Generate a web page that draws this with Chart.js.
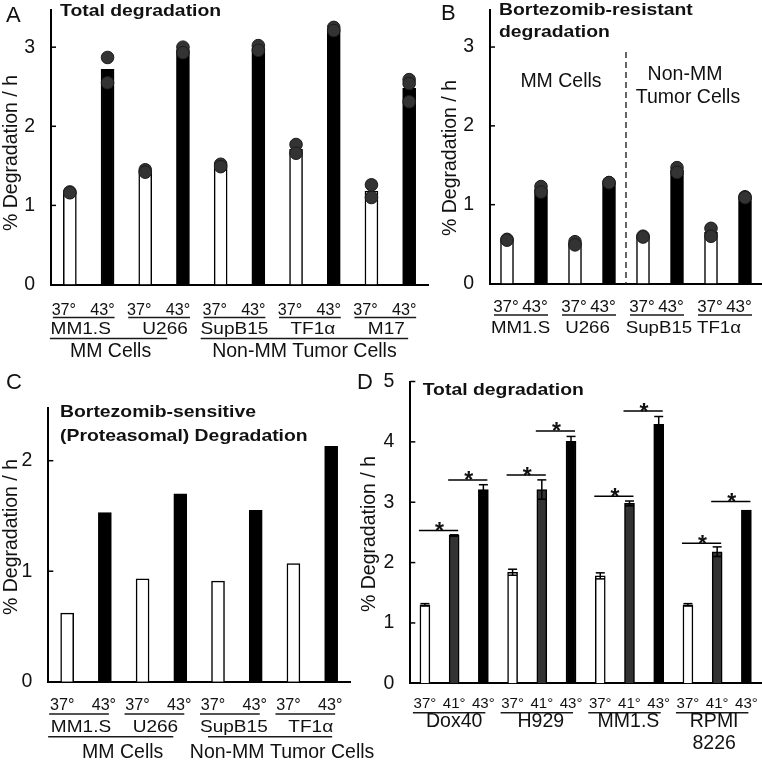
<!DOCTYPE html>
<html>
<head>
<meta charset="utf-8">
<script src="https://cdn.jsdelivr.net/npm/chart.js@4/dist/chart.umd.min.js"></script>
<style>
  html, body { margin: 0; padding: 0; background: #fff; }
  #wrap { position: relative; width: 762px; height: 760px; }
  #wrap canvas { position: absolute; left: 0; top: 0; }
</style>
</head>
<body>
<div id="wrap">
  <canvas id="chartA" width="762" height="760"></canvas>
  <canvas id="chartB" width="762" height="760"></canvas>
  <canvas id="chartC" width="762" height="760"></canvas>
  <canvas id="chartD" width="762" height="760"></canvas>
</div>
<script>
// ---- data ----
const tempsAB = ['37°', '43°'];

const cellsA = ['MM1.S', 'U266', 'SupB15', 'TF1α', 'M17'];
const groupsA = ['MM Cells', 'Non-MM Tumor Cells'];
const meanA = [1.17, 2.72, 1.44, 2.97, 1.51, 2.99, 1.71, 3.23, 1.18, 2.48];
const repsA = [[1.17, 1.16], [2.87, 2.55], [1.45, 1.42], [3.00, 2.93], [1.52, 1.49],
               [3.02, 2.96], [1.77, 1.66], [3.25, 3.21], [1.26, 1.10], [2.59, 2.54, 2.31]];

const cellsB = ['MM1.S', 'U266', 'SupB15', 'TF1α'];
const meanB = [0.55, 1.20, 0.51, 1.28, 0.60, 1.44, 0.65, 1.10];
const repsB = [[0.56, 0.55], [1.23, 1.16], [0.53, 0.49], [1.28, 1.28],
               [0.60, 0.59], [1.47, 1.41], [0.70, 0.60], [1.10, 1.09]];

const cellsC = ['MM1.S', 'U266', 'SupB15', 'TF1α'];
const groupsC = ['MM Cells', 'Non-MM Tumor Cells'];
const meanC = [0.62, 1.53, 0.93, 1.70, 0.91, 1.55, 1.07, 2.13];

const cellsD = ['Dox40', 'H929', 'MM1.S', 'RPMI\n8226'];
const tempsD = ['37°', '41°', '43°'];
const meanD = [1.30, 2.45, 3.21, 1.84, 3.21, 4.01, 1.78, 2.98, 4.29, 1.30, 2.18, 2.87];
const sdD = [0.02, 0.01, 0.08, 0.05, 0.16, 0.08, 0.05, 0.04, 0.13, 0.02, 0.08, 0];
// significance brackets: bar index from / to, height
const sigFromD = [0, 1, 3, 4, 6, 7, 9, 10];
const sigToD = [1, 2, 4, 5, 7, 8, 10, 11];
const sigYD = [2.53, 3.37, 3.45, 4.18, 3.10, 4.51, 2.32, 3.01];

// ---- helpers ----
const FONT = '"Liberation Sans", Arial, Helvetica, sans-serif';

function txt(ctx, s, x, y, size, o = {}) {
  ctx.save();
  ctx.font = (o.bold ? 'bold ' : '') + size + 'px ' + FONT;
  ctx.fillStyle = '#111';
  ctx.textAlign = o.align || 'center';
  ctx.textBaseline = o.base || 'alphabetic';
  ctx.translate(x, y);
  if (o.rot) ctx.rotate(o.rot);
  ctx.scale(o.sx || 1, 1);
  ctx.fillText(s, 0, 0);
  ctx.restore();
}

function line(ctx, x1, y1, x2, y2, w = 1.5, color = '#1a1a1a', dash) {
  ctx.save();
  ctx.strokeStyle = color;
  ctx.lineWidth = w;
  if (dash) ctx.setLineDash(dash);
  ctx.beginPath();
  ctx.moveTo(x1, y1);
  ctx.lineTo(x2, y2);
  ctx.stroke();
  ctx.restore();
}

const keysOf = (cells, temps) => cells.flatMap(c => temps.map(t => c + ' ' + t));

function deco(ch, p) {
  const ctx = ch.ctx, x = ch.scales.x, y = ch.scales.y, a = ch.chartArea;
  // small inward tick marks on the y axis
  y.ticks.forEach(t => {
    if (t.value > 0) {
      const py = y.getPixelForValue(t.value);
      line(ctx, a.left, py, a.left + 5, py, 1.5, '#000');
    }
  });
  txt(ctx, p.letter[0], p.letter[1], p.letter[2], 22, { align: 'left' });
  p.titles.forEach(t => txt(ctx, t[0], t[1], t[2], 17, { bold: true, align: 'left', sx: 1.14 }));
  txt(ctx, '% Degradation / h', p.yTitle[0], p.yTitle[1], 19.5, { rot: -Math.PI / 2, base: 'middle' });

  const nT = p.temps.length;
  p.cells.forEach((c, ci) => {
    const first = x.getPixelForValue(ci * nT);
    const last = x.getPixelForValue(ci * nT + nT - 1);
    p.temps.forEach((t, ti) => {
      txt(ctx, t, x.getPixelForValue(ci * nT + ti) + p.r1.offs[ti], p.r1.y, p.r1.size, { sx: p.r1.sx });
    });
    line(ctx, first + p.r1.ext[0], p.r1.ul, last + p.r1.ext[1], p.r1.ul);
    const mid = (first + last) / 2 + p.r2.offs[ci];
    c.split('\n').forEach((s, li) => {
      txt(ctx, s, mid, p.r2.y + li * 22.3, p.r2.size, { sx: p.r2.sx });
    });
  });

  if (p.groups) {
    p.groups.forEach((g, gi) => {
      const sp = p.gLines[gi];
      const x1 = x.getPixelForValue(sp[0]) + sp[1];
      const x2 = x.getPixelForValue(sp[2]) + sp[3];
      line(ctx, x1, p.gy, x2, p.gy);
      txt(ctx, g, (x1 + x2) / 2 + p.gOffs[gi], p.gLabelY, 19.5);
    });
  }
  if (p.extra) p.extra(ch);
}

function makeChart(id, o) {
  const datasets = [{
    type: 'bar',
    data: o.means,
    order: 1,
    backgroundColor: o.colors,
    borderColor: '#000',
    borderWidth: 1.5,
    barThickness: o.barW
  }];
  if (o.dots) {
    datasets.push({
      type: 'scatter',
      data: o.dots,
      order: 0,
      pointRadius: 6.3,
      backgroundColor: '#333',
      borderColor: '#1c1c1c',
      borderWidth: 1
    });
  }
  return new Chart(document.getElementById(id), {
    type: 'bar',
    data: { labels: o.keys, datasets },
    options: {
      responsive: false,
      animation: false,
      devicePixelRatio: 1,
      layout: {
        autoPadding: false,
        padding: { left: 0, top: o.area.top, right: 762 - o.area.right, bottom: 760 - o.area.bottom }
      },
      plugins: { legend: { display: false }, tooltip: { enabled: false } },
      scales: {
        x: {
          type: 'category',
          offset: true,
          grid: { display: false, drawTicks: false },
          border: { display: true, color: '#000', width: 2 },
          ticks: { display: false },
          afterFit: s => { s.height = 0; s.paddingLeft = 0; s.paddingRight = 0; }
        },
        y: {
          min: 0,
          max: o.yMax,
          grid: { display: false, drawTicks: false },
          border: { display: true, color: '#000', width: 2 },
          ticks: { stepSize: 1, includeBounds: false, padding: 16, color: '#111', font: { family: FONT, size: 19.5 } },
          afterFit: s => { s.width = o.area.left; s.paddingTop = 0; s.paddingBottom = 0; }
        }
      }
    },
    plugins: [{ id: 'deco' + id, afterDraw: ch => deco(ch, o.deco) }]
  });
}

const twoColors = n => Array.from({ length: n }, (_, i) => (i % 2 ? '#000' : '#fff'));

// ---- panel A ----
const keysA = keysOf(cellsA, tempsAB);
makeChart('chartA', {
  keys: keysA,
  means: meanA,
  colors: twoColors(meanA.length),
  dots: repsA.flatMap((r, i) => r.map(v => ({ x: keysA[i], y: v }))),
  yMax: 3.47,
  barW: 13,
  area: { left: 51, top: 10, right: 428, bottom: 284.5 },
  deco: {
    letter: ['A', 6, 21.7],
    titles: [['Total degradation', 60, 16]],
    yTitle: [12, 153],
    cells: cellsA, temps: tempsAB,
    r1: { y: 315, size: 17, sx: 0.95, offs: [-6, -5], ul: 317.5, ext: [-17, 7] },
    r2: { y: 333.5, size: 17, sx: 1.12, offs: [-8, 1, -5, -2, -4] },
    groups: groupsA,
    gLines: [[0, -20, 2, 22], [4, -20, 9, -1]],
    gy: 338.5, gLabelY: 356.5, gOffs: [2, 0]
  }
});

// ---- panel B ----
const keysB = keysOf(cellsB, tempsAB);
makeChart('chartB', {
  keys: keysB,
  means: meanB,
  colors: twoColors(meanB.length),
  dots: repsB.flatMap((r, i) => r.map(v => ({ x: keysB[i], y: v }))),
  yMax: 3.47,
  barW: 13,
  area: { left: 490, top: 10, right: 762, bottom: 283.5 },
  deco: {
    letter: ['B', 441, 19.5],
    titles: [['Bortezomib-resistant', 499, 15], ['degradation', 499, 37]],
    yTitle: [451, 158],
    cells: cellsB, temps: tempsAB,
    r1: { y: 311.7, size: 17, sx: 1, offs: [-1, -6], ul: 315, ext: [-13, 7] },
    r2: { y: 333.3, size: 17, sx: 1.1, offs: [-3.5, -4.5, -1, -9] },
    extra: ch => {
      const ctx = ch.ctx, x = ch.scales.x, a = ch.chartArea;
      const xd = (x.getPixelForValue(3) + x.getPixelForValue(4)) / 2;
      line(ctx, xd, 52, xd, a.bottom, 1.5, '#333', [6, 4]);
      txt(ctx, 'MM Cells', 561, 87.3, 19.5);
      txt(ctx, 'Non-MM', 685, 80, 19.5);
      txt(ctx, 'Tumor Cells', 688, 103.3, 19.5);
    }
  }
});

// ---- panel C ----
const keysC = keysOf(cellsC, tempsAB);
makeChart('chartC', {
  keys: keysC,
  means: meanC,
  colors: twoColors(meanC.length),
  yMax: 2.477,
  barW: 13,
  area: { left: 48.3, top: 408, right: 350, bottom: 681.7 },
  deco: {
    letter: ['C', 6, 389],
    titles: [['Bortezomib-sensitive', 60, 417], ['(Proteasomal) Degradation', 60, 441]],
    yTitle: [12, 537],
    cells: cellsC, temps: tempsAB,
    r1: { y: 710, size: 17, sx: 0.95, offs: [-5, -1], ul: 714, ext: [-18, 4] },
    r2: { y: 731.7, size: 17, sx: 1.12, offs: [-5, -6, -3, -1.5] },
    groups: groupsC,
    gLines: [[0, -19, 3, -7], [4, -10, 7, 1]],
    gy: 736.7, gLabelY: 758, gOffs: [12, 12]
  }
});

// ---- panel D ----
const keysD = keysOf(cellsD, tempsD);
makeChart('chartD', {
  keys: keysD,
  means: meanD,
  colors: meanD.map((_, i) => ['#fff', '#333', '#000'][i % 3]),
  yMax: 5,
  barW: 10,
  area: { left: 410.3, top: 381.5, right: 761, bottom: 683.3 },
  deco: {
    letter: ['D', 357, 389],
    titles: [['Total degradation', 422.7, 395]],
    yTitle: [370, 534],
    cells: cellsD, temps: tempsD,
    r1: { y: 708, size: 15.5, sx: 0.97, offs: [0, 0, 0], ul: 712.7, ext: [-12, 2] },
    r2: { y: 726.7, size: 19.5, sx: 1, offs: [0, -1, -1, -3] },
    extra: ch => {
      const ctx = ch.ctx, x = ch.scales.x, y = ch.scales.y;
      meanD.forEach((m, i) => {
        const sd = sdD[i];
        if (!sd) return;
        const px = x.getPixelForValue(i);
        const t = y.getPixelForValue(m + sd), b = y.getPixelForValue(m - sd);
        line(ctx, px, t, px, b, 1.5, '#000');
        line(ctx, px - 4.5, t, px + 4.5, t, 1.5, '#000');
        line(ctx, px - 4.5, b, px + 4.5, b, 1.5, '#000');
      });
      sigFromD.forEach((f, k) => {
        const x1 = x.getPixelForValue(f) - 6;
        const x2 = x.getPixelForValue(sigToD[k]) + 4;
        const py = y.getPixelForValue(sigYD[k]);
        line(ctx, x1, py, x2, py, 1.5, '#000');
        txt(ctx, '*', (x1 + x2) / 2 + 1, py + 8.5, 23, { bold: true });
      });
    }
  }
});
</script>
</body>
</html>
